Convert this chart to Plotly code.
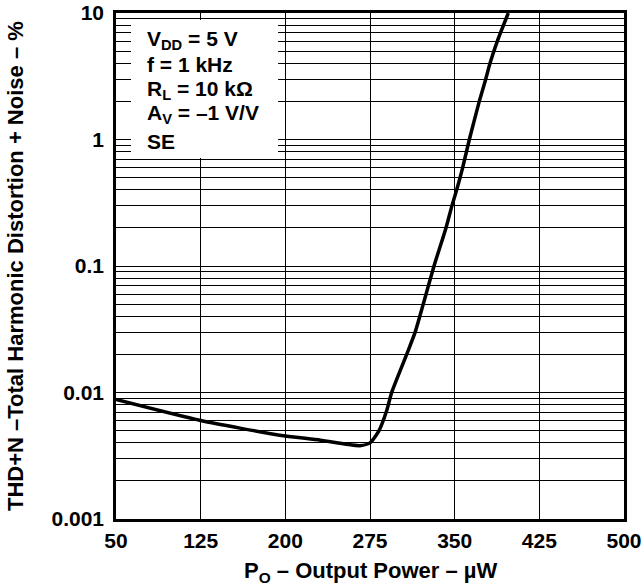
import plotly.graph_objects as go

# Data
power_uW = [50, 125, 195, 231, 254, 266, 275, 283, 289.8, 294.2, 307.5, 315,
            322.2, 331.7, 342.3, 347.6, 351.8, 357.1, 363, 371.8, 377.5, 381.3,
            387.8, 397.5]
thd_pct = [0.0088, 0.0060, 0.0046, 0.0042, 0.0039, 0.0038, 0.0040, 0.0050, 0.0072,
           0.0100, 0.02, 0.03, 0.05, 0.1, 0.2, 0.3, 0.4, 0.6, 1.0, 2.0,
           3.0, 4.0, 6.0, 10.0]

x_ticks = [50, 125, 200, 275, 350, 425, 500]
y_ticks = [0.001, 0.01, 0.1, 1, 10]
y_tick_text = ["0.001", "0.01", "0.1", "1", "10"]
y_minor = [k * 10 ** e for e in range(-3, 1) for k in range(2, 10)]

x_title = "P<sub>O</sub> – Output Power – µW"
y_title = "THD+N –Total Harmonic Distortion + Noise – %"
legend_lines = [
    "V<sub>DD</sub> = 5 V",
    "f = 1 kHz",
    "R<sub>L</sub> = 10 kΩ",
    "A<sub>V</sub> = –1 V/V",
    "SE",
]

FONT = "Liberation Sans, Arial, sans-serif"
TICKFONT = dict(family=FONT, size=21, color="black", weight="bold")
TITLEFONT = dict(family=FONT, size=22, color="black", weight="bold")

L, R, T, B = 116, 20, 13, 69
W, H = 644, 588
PW, PH = W - L - R, H - T - B

fig = go.Figure()
fig.add_trace(go.Scatter(
    x=power_uW, y=thd_pct, mode="lines",
    line=dict(color="black", width=3.5, shape="spline", smoothing=0.6),
    hoverinfo="skip", showlegend=False,
))

fig.update_layout(
    width=W, height=H,
    margin=dict(l=L, r=R, t=T, b=B),
    paper_bgcolor="white", plot_bgcolor="white",
    font=dict(family=FONT, size=21, color="black"),
    xaxis=dict(
        range=[50, 500], tickvals=x_ticks, ticks="", showgrid=True,
        gridcolor="black", gridwidth=1, zeroline=False, automargin=False,
        showline=True, linecolor="black", linewidth=2.5, mirror=True,
        tickfont=TICKFONT, ticklabelstandoff=1,
    ),
    yaxis=dict(
        type="log", range=[-3, 1], tickvals=y_ticks, ticktext=y_tick_text,
        ticks="", showgrid=True, gridcolor="black", gridwidth=1, zeroline=False,
        showline=True, linecolor="black", linewidth=2.5, mirror=True,
        automargin=False, tickfont=TICKFONT, ticklabelstandoff=5,
        minor=dict(tickvals=y_minor, showgrid=True, gridcolor="black",
                   gridwidth=1, ticks=""),
    ),
)

# axis titles
fig.add_annotation(text=x_title, xref="paper", yref="paper",
                   x=0.5, y=(T + PH - 572) / PH, xanchor="center", yanchor="middle",
                   showarrow=False, font=TITLEFONT)
fig.add_annotation(text=y_title, xref="paper", yref="paper",
                   x=(15 - L) / PW, y=0.5, xanchor="center", yanchor="middle",
                   textangle=-90, showarrow=False, font=TITLEFONT)

# white legend box covering the grid
fig.add_shape(type="rect", xref="x domain", yref="y domain",
              x0=0.0295, x1=0.319, y0=0.7134, y1=0.986,
              fillcolor="white", line=dict(width=0), layer="above")

line_y_px = [40, 65, 90, 114, 141]
for txt, ypx in zip(legend_lines, line_y_px):
    fig.add_annotation(text=txt, xref="x domain", yref="y domain",
                       x=0.057, y=(T + PH - ypx) / PH, xanchor="left", yanchor="middle",
                       showarrow=False, font=TICKFONT)

fig.write_html(
    "out.html",
    config={"displayModeBar": False},
    post_script="document.body.style.margin='0';document.body.style.overflow='hidden';",
)
